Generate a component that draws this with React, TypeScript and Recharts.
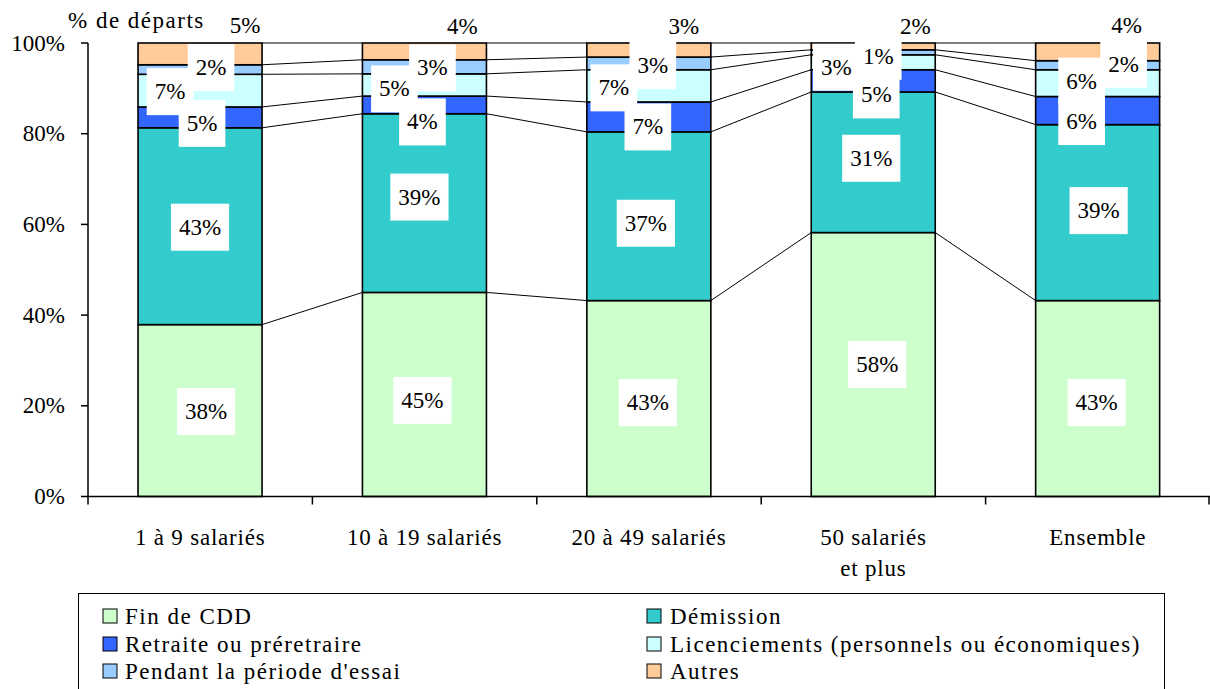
import React from 'react';
import { BarChart, Bar, XAxis, YAxis, Customized } from 'recharts';

// ---------- data ----------
const categories = ['1 à 9 salariés', '10 à 19 salariés', '20 à 49 salariés', '50 salariés et plus', 'Ensemble'];
const xTickLines = [['1 à 9 salariés'], ['10 à 19 salariés'], ['20 à 49 salariés'], ['50 salariés', 'et plus'], ['Ensemble']];
const seriesNames = [
  'Fin de CDD',
  'Démission',
  'Retraite ou préretraire',
  'Licenciements (personnels ou économiques)',
  "Pendant la période d'essai",
  'Autres',
];
const finCDD = [37.9, 45.0, 43.2, 58.2, 43.2];
const demission = [43.4, 39.4, 37.2, 31.0, 38.8];
const retraite = [4.6, 3.9, 6.6, 4.9, 6.2];
const licenciements = [7.2, 4.9, 7.1, 3.3, 5.9];
const essai = [2.1, 3.1, 2.8, 1.1, 2.0];
const autres = [4.8, 3.7, 3.1, 1.5, 3.9];
const yTicks = [0, 20, 40, 60, 80, 100];

// ---------- styles / layout ----------
const SERIES_KEYS = ['fin', 'dem', 'ret', 'lic', 'ess', 'aut'];
const seriesValues = [finCDD, demission, retraite, licenciements, essai, autres];
const COLORS = ['#CCFFCC', '#33CCCC', '#3366FF', '#CCFFFF', '#99CCFF', '#FFCC99'];
const FONT = '"Liberation Serif", "Times New Roman", Times, "DejaVu Serif", serif';
const FS = 23;
const TXT: React.CSSProperties = { fontFamily: FONT, fontSize: FS };
const TXT_WIDE: React.CSSProperties = { fontFamily: FONT, fontSize: FS, letterSpacing: 1.5 };
const TXT_TICK: React.CSSProperties = { fontFamily: FONT, fontSize: FS, letterSpacing: 0.8 };
const CHART_W = 1202;
const CHART_H = 681;
const Y_AXIS_W = 80;
const MARGIN = { top: 35, right: 0, bottom: 92.5, left: 0 };
const X_AXIS_H = 100;
const PLOT_W = CHART_W - MARGIN.left - MARGIN.right - Y_AXIS_W;
const STEP = PLOT_W / categories.length;

// label offsets (px) from each segment's centre: [category][series] -> [dx, dy]
const LABEL_OFFSETS: number[][][] = [
  [[6, 1], [0, 1], [2, 6], [-30, 1], [11, -2], [45, -28]],
  [[-2, 6], [-5, -6], [-2, 17], [-30, 4], [8, 1], [38, -25]],
  [[-1, 4], [-3, 7], [-1, 10], [-35, 2], [4, 2], [35, -24]],
  [[4, 0], [-2, -4], [3, 14], [-37, 5], [5, 4], [42, -20]],
  [[-1, 4], [1, -2], [-16, 11], [-16, -2], [26, -1], [29, -26]],
];

const data = categories.map((name, i) => {
  const row: Record<string, any> = { name };
  SERIES_KEYS.forEach((k, s) => {
    row[k] = seriesValues[s][i];
  });
  return row;
});

function cumBelow(ci: number, si: number) {
  let s = 0;
  for (let k = 0; k < si; k++) s += seriesValues[k][ci];
  return s;
}

function textWidth(t: string) {
  let w = 0;
  for (const ch of t) w += ch === '%' ? 0.833 : 0.5;
  return w * FS;
}

function makeShape(si: number) {
  return function SegmentShape(props: any) {
    const { x, y, width, height, payload } = props;
    const ci = categories.indexOf(payload?.name);
    if (ci < 0 || !isFinite(x) || !isFinite(y)) return null;
    const val = seriesValues[si][ci];
    const below = cumBelow(ci, si);
    const base = y + height;
    const ppu = height / val;
    const yOf = (v: number) => base - (v - below) * ppu;
    const top = below + val;
    const parts: React.ReactNode[] = [
      <rect key="r" x={x} y={y} width={width} height={height} fill={COLORS[si]} stroke="#000" strokeWidth={1.6} />,
    ];
    if (ci < categories.length - 1) {
      const nextTop = cumBelow(ci + 1, si) + seriesValues[si][ci + 1];
      parts.push(
        <line key="sl" x1={x + width} y1={yOf(top)} x2={x + STEP} y2={yOf(nextTop)} stroke="#000" strokeWidth={1} />
      );
    }
    if (si === seriesValues.length - 1) {
      seriesValues.forEach((vals, sk) => {
        const v = vals[ci];
        const c = cumBelow(ci, sk) + v / 2;
        const [dx, dy] = LABEL_OFFSETS[ci][sk];
        const cx = x + width / 2 + dx;
        const cy = yOf(c) + dy;
        const txt = Math.round(v) + '%';
        const w = textWidth(txt) + 16;
        if (sk !== seriesValues.length - 1) {
          parts.push(<rect key={'lb' + sk} x={cx - w / 2} y={cy - 23.5} width={w} height={47} fill="#fff" />);
        }
        parts.push(
          <text key={'lt' + sk} x={cx} y={cy} textAnchor="middle" dominantBaseline="central" style={TXT} fill="#000">
            {txt}
          </text>
        );
      });
    }
    return <g>{parts}</g>;
  };
}

const shapes = SERIES_KEYS.map((_, i) => makeShape(i));

const XTick = (props: any) => {
  const { x, y, payload } = props;
  const i = categories.indexOf(payload?.value);
  const lines = i >= 0 ? xTickLines[i] : [String(payload?.value)];
  const half = STEP / 2;
  return (
    <g>
      <line x1={x - half} x2={x - half} y1={y} y2={y + 8} stroke="#000" strokeWidth={1.5} />
      {i === categories.length - 1 && (
        <line x1={x + half - 1} x2={x + half - 1} y1={y} y2={y + 8} stroke="#000" strokeWidth={1.5} />
      )}
      {lines.map((l, k) => (
        <text
          key={k}
          x={x}
          y={y + 40.5 + k * 31}
          textAnchor="middle"
          dominantBaseline="central"
          style={TXT_TICK}
          fill="#000"
        >
          {l}
        </text>
      ))}
    </g>
  );
};

const YTick = (props: any) => {
  const { x, y, payload } = props;
  return (
    <text x={x} y={y} textAnchor="end" dominantBaseline="central" style={TXT} fill="#000">
      {payload?.value + '%'}
    </text>
  );
};

const YTitle = () => (
  <text x={60} y={20} style={TXT_WIDE} fill="#000">
    % de départs
  </text>
);

const LegendBox = () => {
  const rows = [608, 636, 663];
  const colSq = [95, 639];
  const colTx = [117, 662];
  return (
    <g>
      <rect x={70.5} y={585.5} width={1086} height={200} fill="#fff" stroke="#000" strokeWidth={1} />
      {seriesNames.map((n, i) => {
        const r = Math.floor(i / 2);
        const c = i % 2;
        const cy = rows[r];
        return (
          <g key={n}>
            <rect x={colSq[c]} y={cy - 7} width={14} height={14} fill={COLORS[i]} stroke="#000" strokeWidth={1} />
            <text x={colTx[c]} y={cy} dominantBaseline="central" style={TXT_WIDE} fill="#000">
              {n}
            </text>
          </g>
        );
      })}
    </g>
  );
};

export default function App() {
  return (
    <div
      style={{
        position: 'absolute',
        left: 8,
        top: 8,
        width: CHART_W,
        height: CHART_H,
        overflow: 'hidden',
        background: '#fff',
        fontFamily: FONT,
      }}
    >
      <BarChart width={CHART_W} height={CHART_H} data={data} margin={MARGIN} barCategoryGap="22.3%">
        <XAxis
          dataKey="name"
          height={X_AXIS_H}
          axisLine={{ stroke: '#000', strokeWidth: 1.5 }}
          tickLine={false}
          tickSize={0}
          tickMargin={0}
          interval={0}
          tick={<XTick />}
        />
        <YAxis
          width={Y_AXIS_W}
          domain={[0, 100]}
          ticks={yTicks}
          axisLine={{ stroke: '#000', strokeWidth: 1.5 }}
          tickLine={{ stroke: '#000', strokeWidth: 1.5 }}
          tickSize={7}
          tickMargin={16}
          tick={<YTick />}
        />
        {SERIES_KEYS.map((k, i) => (
          <Bar key={k} dataKey={k} stackId="a" isAnimationActive={false} shape={shapes[i]} />
        ))}
        <Customized component={YTitle} />
        <Customized component={LegendBox} />
      </BarChart>
    </div>
  );
}
